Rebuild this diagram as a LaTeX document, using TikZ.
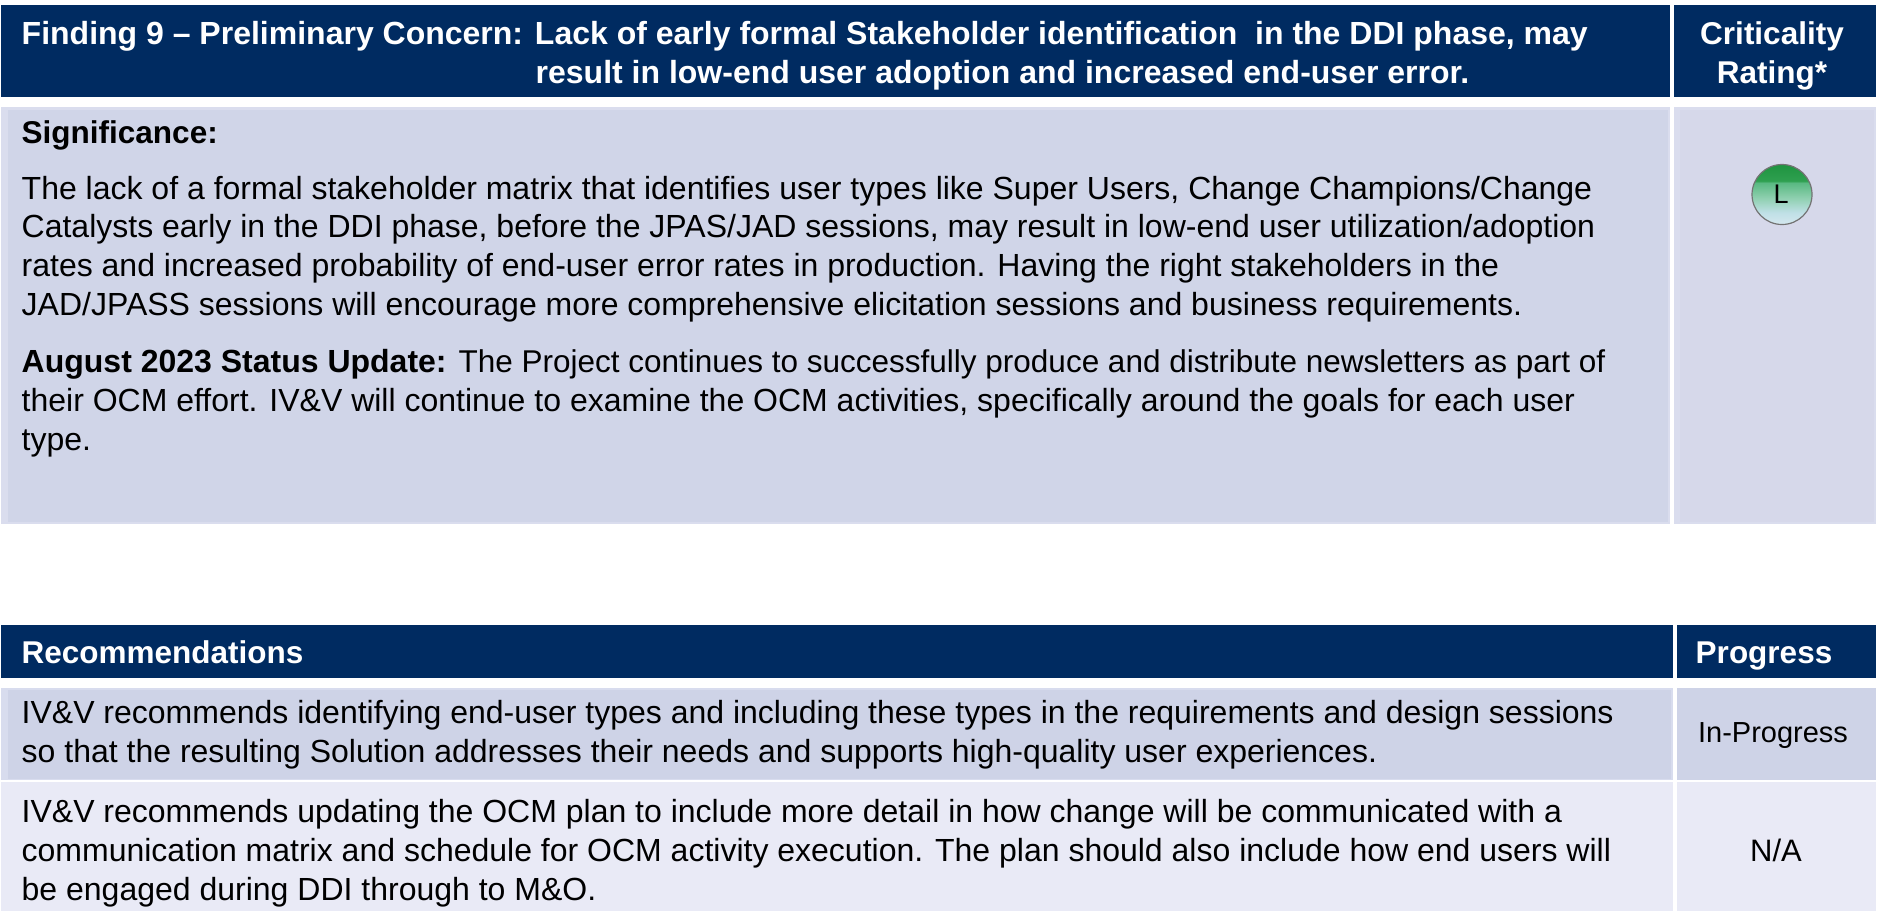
\documentclass[tikz,border=0pt]{standalone}
\usepackage{fontspec}
\setmainfont{Liberation Sans}
\usetikzlibrary{shadings}
\definecolor{navy}{HTML}{002B61}
\definecolor{bodyfill}{HTML}{D0D5E8}
\definecolor{bodyedge}{HTML}{DADDEE}
\definecolor{bodyright}{HTML}{D6D8EA}
\definecolor{rowone}{HTML}{CED3E7}
\definecolor{rowoneedge}{HTML}{D8DCEE}
\definecolor{rowtwo}{HTML}{E9EAF6}
\definecolor{ballA}{HTML}{D5E7EF}
\definecolor{ballB}{HTML}{BFE0E6}
\definecolor{ballC}{HTML}{8FD0B0}
\definecolor{ballD}{HTML}{58B880}
\definecolor{ballE}{HTML}{2FA050}
\definecolor{ballF}{HTML}{1E9440}
\pgfdeclareverticalshading{ratingball}{100bp}{
  color(0bp)=(ballA);
  color(25bp)=(ballA);
  color(35bp)=(ballB);
  color(47bp)=(ballC);
  color(60bp)=(ballD);
  color(61bp)=(ballE);
  color(75bp)=(ballF);
  color(100bp)=(ballF)}
\tikzset{
  x=1pt,y=-1pt,
  head/.style={fill=navy,draw=none},
  txt/.style={anchor=base west,inner sep=0pt,align=left,font=\fontsize{32}{38.6}\selectfont,text=black},
  htxt/.style={anchor=base,inner sep=0pt,align=center,font=\fontsize{31.5}{38.6}\selectfont\bfseries,text=white},
  ctxt/.style={anchor=base,inner sep=0pt,align=center,font=\fontsize{29}{36}\selectfont,text=black}
}
\begin{document}
\begin{tikzpicture}
\useasboundingbox (0,0) rectangle (1879,911);
\fill[white] (0,0) rectangle (1879,911);
% header row
\fill[head] (1,5) rectangle (1670,97);
\fill[head] (1674,5) rectangle (1876,97);
% body
\fill[bodyedge] (1,107) rectangle (1670,524);
\fill[bodyfill] (8,110) rectangle (1668,522);
\fill[bodyedge] (1674,107) rectangle (1876,524);
\fill[bodyright] (1680,110) rectangle (1874,522);
% recommendations
\fill[head] (1,625) rectangle (1673,678);
\fill[head] (1677,625) rectangle (1876,678);
\fill[rowoneedge] (1,688) rectangle (1673,780);
\fill[rowone] (8,690) rectangle (1671,779);
\fill[rowone] (1677,688) rectangle (1876,780);
\fill[rowtwo] (1,782) rectangle (1673,911);
\fill[rowtwo] (1677,782) rectangle (1876,911);
% texts
\node[htxt,anchor=base west,font=\fontsize{32}{38.6}\selectfont\bfseries] (t1) at (21.5,44) {Finding 9 – Preliminary Concern: Lack of early formal Stakeholder identification\ \ in the DDI phase, may};
\node[htxt,anchor=base west,font=\fontsize{32}{38.6}\selectfont\bfseries] (t2) at (535.5,83) {result in low-end user adoption and increased end-user error.};
\node[htxt] (t3) at (1772,44) {Criticality};
\node[htxt] (t4) at (1772,83) {Rating*};
\node[txt,font=\fontsize{31.5}{38.6}\selectfont\bfseries] (s) at (21.5,143) {Significance:};
\node[txt] (p1) at (21.5,315) {The lack of a formal stakeholder matrix that identifies user types like Super Users, Change Champions/Change\\
Catalysts early in the DDI phase, before the JPAS/JAD sessions, may result in low-end user utilization/adoption\\
rates and increased probability of end-user error rates in production. Having the right stakeholders in the\\
JAD/JPASS sessions will encourage more comprehensive elicitation sessions and business requirements.};
\node[txt] (p2) at (21.5,450) {\textbf{August 2023 Status Update:} {\fontsize{31.5}{38.6}\selectfont The Project continues to successfully produce and distribute newsletters as part of}\\
their OCM effort. IV\&V will continue to examine the OCM activities, specifically around the goals for each user\\
type.};
\node[circle,minimum size=60pt,inner sep=0pt,draw=black!55,line width=1.2pt,shading=ratingball] (ball) at (1782,194.5) {};
\node[anchor=center,inner sep=0pt,font=\fontsize{27}{30}\selectfont] (l) at (1781,194) {L};
\node[txt,font=\fontsize{31.5}{38.6}\selectfont\bfseries,text=white] (r) at (21.5,663) {Recommendations};
\node[htxt] (pr) at (1764,663) {Progress};
\node[txt] (r1) at (21.5,762) {IV\&V recommends identifying end-user types and including these types in the requirements and design sessions\\
so that the resulting Solution addresses their needs and supports high-quality user experiences.};
\node[ctxt] (ip) at (1773,742) {In-Progress};
\node[txt] (r2) at (21.5,900) {IV\&V recommends updating the OCM plan to include more detail in how change will be communicated with a\\
communication matrix and schedule for OCM activity execution. The plan should also include how end users will\\
be engaged during DDI through to M\&O.};
\node[ctxt,font=\fontsize{31}{38}\selectfont] (na) at (1776,861) {N/A};
\end{tikzpicture}
\end{document}
